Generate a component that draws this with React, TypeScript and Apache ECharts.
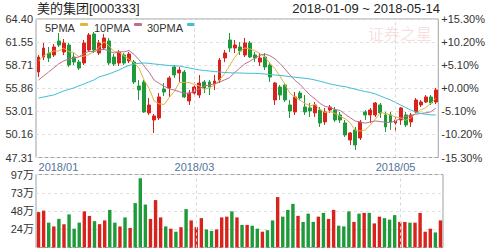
import { useEffect, useRef } from 'react';
import * as echarts from 'echarts';

const dates = [
  '2018-01-10', '2018-01-11', '2018-01-12', '2018-01-15', '2018-01-16', '2018-01-17', '2018-01-18', '2018-01-19',
  '2018-01-22', '2018-01-23', '2018-01-24', '2018-01-25', '2018-01-26', '2018-01-29', '2018-01-30', '2018-01-31',
  '2018-02-01', '2018-02-02', '2018-02-05', '2018-02-06', '2018-02-07', '2018-02-08', '2018-02-09', '2018-02-12',
  '2018-02-13', '2018-02-14', '2018-02-22', '2018-02-23', '2018-02-26', '2018-02-27', '2018-02-28',
  '2018-03-01', '2018-03-02', '2018-03-05', '2018-03-06', '2018-03-07', '2018-03-08', '2018-03-09', '2018-03-12',
  '2018-03-13', '2018-03-14', '2018-03-15', '2018-03-16', '2018-03-19', '2018-03-20', '2018-03-21', '2018-03-22',
  '2018-03-23', '2018-03-26', '2018-03-27', '2018-03-28', '2018-03-29', '2018-03-30',
  '2018-04-02', '2018-04-03', '2018-04-04', '2018-04-09', '2018-04-10', '2018-04-11', '2018-04-12', '2018-04-13',
  '2018-04-16', '2018-04-17', '2018-04-18', '2018-04-19', '2018-04-20', '2018-04-23', '2018-04-24', '2018-04-25',
  '2018-04-26', '2018-04-27',
  '2018-05-02', '2018-05-03', '2018-05-04', '2018-05-07', '2018-05-08', '2018-05-09', '2018-05-10', '2018-05-11',
  '2018-05-14',
];

const opens = [
  57.86, 59.71, 60.2, 59.96, 61.69, 60.33, 61.19, 59.71, 59.09, 58.97,
  60.57, 62.55, 60.2, 60.82, 61.69, 59.71, 58.97, 59.96, 59.22, 59.09,
  56.13, 56.63, 52.81, 51.94, 52.19, 55.76, 55.89, 58.48, 57.74, 57.86,
  54.28, 55.27, 55.02, 56.63, 56.63, 56.38, 56.87, 59.59, 61.81, 60.82,
  60.95, 59.96, 61.44, 59.96, 59.09, 59.71, 58.72, 54.41, 56.01, 56.26,
  53.79, 52.93, 55.27, 53.54, 53.42, 52.81, 53.17, 51.7, 53.17, 53.17,
  52.56, 51.57, 49.47, 50.71, 49.72, 52.93, 52.56, 52.56, 53.79, 52.56,
  52.56, 51.57, 51.94, 52.56, 51.7, 52.93, 53.79, 54.16, 54.78, 54.16,
];
const closes = [
  59.71, 60.82, 59.59, 60.95, 61.19, 61.44, 58.72, 59.09, 58.35, 61.44,
  62.43, 60.57, 61.44, 62.06, 58.97, 58.85, 60.33, 58.97, 60.08, 56.63,
  55.64, 52.93, 53.79, 52.44, 54.78, 55.39, 57.12, 57.49, 58.11, 54.78,
  55.27, 56.01, 56.5, 55.89, 56.01, 56.75, 59.34, 60.2, 60.82, 61.19,
  60.45, 61.44, 59.71, 59.59, 59.59, 58.48, 57.24, 56.5, 55.02, 54.41,
  53.05, 54.78, 54.65, 52.93, 53.05, 53.79, 51.57, 52.93, 53.54, 51.94,
  51.94, 50.09, 50.34, 48.85, 51.7, 52.56, 53.17, 54.04, 52.81, 51.08,
  51.7, 51.94, 53.42, 51.33, 52.56, 54.41, 54.16, 54.78, 54.04, 55.64,
];
const lows = [
  57.24, 59.34, 59.09, 59.71, 60.95, 59.96, 58.48, 58.72, 58.11, 58.72,
  60.33, 60.2, 59.96, 60.57, 58.72, 58.6, 58.6, 58.72, 58.97, 56.38,
  54.41, 52.81, 52.56, 50.34, 51.94, 54.9, 54.78, 57.12, 56.63, 54.65,
  53.79, 54.78, 54.65, 55.27, 55.02, 55.64, 56.5, 59.09, 60.33, 60.2,
  59.96, 59.71, 59.59, 59.09, 58.6, 58.11, 56.63, 53.79, 54.41, 54.16,
  52.19, 52.56, 54.41, 52.56, 52.31, 52.31, 51.08, 51.33, 52.81, 51.7,
  51.57, 49.85, 48.85, 48.24, 49.47, 51.94, 51.57, 52.31, 52.19, 50.46,
  50.71, 50.46, 51.33, 51.08, 51.08, 52.81, 53.54, 54.04, 53.79, 53.91,
];
const highs = [
  59.96, 61.44, 60.95, 61.31, 62.67, 61.93, 61.44, 60.2, 59.34, 61.81,
  62.67, 62.8, 61.81, 62.55, 62.06, 60.08, 60.57, 60.2, 60.33, 59.34,
  56.87, 56.87, 54.65, 52.68, 55.27, 56.5, 57.37, 58.72, 58.48, 58.11,
  55.64, 56.63, 57.49, 56.87, 56.87, 57.49, 59.59, 60.57, 62.67, 61.81,
  61.56, 62.06, 61.69, 60.33, 60.2, 60.2, 59.09, 56.63, 56.26, 56.5,
  54.41, 55.39, 55.52, 55.02, 54.04, 54.16, 53.54, 53.42, 53.79, 53.54,
  52.93, 51.94, 50.46, 51.08, 51.94, 53.17, 53.42, 54.16, 54.04, 52.93,
  52.93, 52.31, 53.54, 52.93, 52.81, 54.65, 54.41, 55.02, 55.02, 55.89,
];
// volume in 万
const volumes = [
  47, 49, 33, 28, 38, 31, 44, 25, 33, 48,
  42, 35, 31, 36, 50, 33, 28, 40, 26, 59,
  92, 57, 38, 63, 40, 28, 25, 21, 27, 51,
  36, 27, 39, 24, 22, 24, 40, 41, 48, 40,
  30, 30, 29, 25, 21, 23, 36, 67, 41, 50,
  58, 42, 34, 45, 34, 41, 46, 38, 50, 29,
  28, 48, 34, 45, 46, 46, 32, 41, 39, 37,
  43, 34, 34, 33, 33, 46, 21, 25, 20, 36,
];
// MA values for the first days (need closes before the window)
const ma5Head = [59.22, 59.83, 60.2, 60.45];
const ma10Head = [56.87, 57.37, 57.86, 58.35, 58.85, 59.22, 59.46, 59.59, 59.71];
const ma30 = [
  54.65, 54.77, 54.9, 55.02, 55.27, 55.52, 55.7, 55.89, 56.13, 56.38,
  56.63, 56.87, 57.24, 57.43, 57.61, 57.86, 58.11, 58.42, 58.66, 58.85,
  58.93, 58.97, 58.93, 58.85, 58.79, 58.72, 58.66, 58.62, 58.6, 58.48,
  58.35, 58.23, 58.11, 58.05, 57.98, 57.92, 57.86, 57.8, 57.77, 57.74,
  57.74, 57.71, 57.7, 57.7, 57.67, 57.61, 57.55, 57.49, 57.43, 57.37,
  57.28, 57.22, 57.14, 57.08, 57.0, 56.87, 56.72, 56.55, 56.38, 56.26,
  56.13, 56.05, 55.89, 55.74, 55.58, 55.45, 55.33, 55.15, 54.9, 54.65,
  54.41, 54.1, 53.79, 53.48, 53.17, 52.93, 52.74, 52.64, 52.58, 52.55,
];

const basePrice = 55.855;
const priceLabels = ['47.31', '50.16', '53.01', '55.86', '58.71', '61.55', '64.40'];
const pctLabels = ['-15.30%', '-10.20%', '-5.10%', '+0.00%', '+5.10%', '+10.20%', '+15.30%'];
const volLabels = ['', '24万', '48万', '73万', '97万'];
const xLabelDates = ['2018-01-10', '2018-03-01', '2018-05-02'];
const monthLineDates = ['2018-03-01', '2018-05-02'];

const titleText = '美的集团[000333]';
const rangeText = '2018-01-09 ~ 2018-05-14';
const watermarkText = '证券之星';

const RED = '#d8231d';
const GREEN = '#1e9a3a';
const MA5C = '#e2b43a';
const MA10C = '#bc6f93';
const MA30C = '#3dbfd6';
const FONT = '"Liberation Sans", Arial, "Noto Sans CJK SC", sans-serif';

const toPct = (p: number) => (p / basePrice - 1) * 100;

function movingAvg(n: number, head: number[]) {
  return closes.map((_, i) => {
    if (i < n - 1) return head[i];
    let s = 0;
    for (let k = i - n + 1; k <= i; k++) s += closes[k];
    return s / n;
  });
}

export default function App() {
  const ref = useRef<HTMLDivElement>(null);
  useEffect(() => {
    document.body.style.margin = '0';
    const chart = echarts.init(ref.current!, undefined, { renderer: 'svg' });
    const ma5 = movingAvg(5, ma5Head);
    const ma10 = movingAvg(10, ma10Head);
    const candles = dates.map((_, i) => [toPct(opens[i]), toPct(closes[i]), toPct(lows[i]), toPct(highs[i])]);
    const vol = volumes.map((v, i) => ({ value: v, itemStyle: { color: closes[i] >= opens[i] ? RED : GREEN } }));
    const markLine = {
      silent: true,
      symbol: ['none', 'none'],
      label: { show: false },
      lineStyle: { color: '#d8d8d8', type: [3, 3], width: 1 },
      data: monthLineDates.map((d) => ({ xAxis: d })),
    };
    const splitLine = { show: true, lineStyle: { color: '#e0e0e0', type: [3, 3], width: 1 } };
    const option: any = {
      animation: false,
      backgroundColor: '#ffffff',
      textStyle: { fontFamily: FONT },
      grid: [
        { left: 36, right: 45, top: 19, height: 138.5, show: true, borderColor: '#a0a0a0', borderWidth: 1 },
        { left: 36, right: 45, top: 174.5, height: 73, show: true, borderColor: '#a0a0a0', borderWidth: 1 },
      ],
      xAxis: [
        {
          type: 'category', gridIndex: 0, data: dates,
          axisLine: { show: false }, axisTick: { show: false }, splitLine: { show: false },
          axisLabel: {
            interval: (_i: number, v: string) => xLabelDates.includes(v),
            formatter: (v: string) => v.slice(0, 7).replace('-', '/'),
            color: '#52739a', fontSize: 11, margin: 4, fontFamily: FONT,
            alignMinLabel: 'left',
          },
        },
        {
          type: 'category', gridIndex: 1, data: dates,
          axisLine: { show: false }, axisTick: { show: false }, splitLine: { show: false },
          axisLabel: { show: false },
        },
      ],
      yAxis: [
        {
          type: 'value', gridIndex: 0, min: -15.3, max: 15.3, interval: 5.1, position: 'left',
          axisLine: { show: false }, axisTick: { show: false }, splitLine,
          axisLabel: {
            formatter: (v: number) => priceLabels[Math.round((v + 15.3) / 5.1)] ?? '',
            color: '#333', fontSize: 11, margin: 3, fontFamily: FONT,
          },
        },
        {
          type: 'value', gridIndex: 0, min: -15.3, max: 15.3, interval: 5.1, position: 'right',
          axisLine: { show: false }, axisTick: { show: false }, splitLine: { show: false },
          axisLabel: {
            formatter: (v: number) => pctLabels[Math.round((v + 15.3) / 5.1)] ?? '',
            color: '#333', fontSize: 11, margin: 3, fontFamily: FONT,
          },
        },
        {
          type: 'value', gridIndex: 1, min: 0, max: 97, interval: 24.25, position: 'left',
          axisLine: { show: false }, axisTick: { show: false }, splitLine,
          axisLabel: {
            formatter: (v: number) => volLabels[Math.round(v / 24.25)] ?? '',
            color: '#333', fontSize: 11, margin: 2, fontFamily: FONT, padding: [5, 0, 0, 0],
          },
        },
      ],
      series: [
        {
          type: 'candlestick', name: 'K', xAxisIndex: 0, yAxisIndex: 0, data: candles, barWidth: 3.4,
          itemStyle: { color: RED, color0: GREEN, borderColor: RED, borderColor0: GREEN, borderWidth: 1 },
          markLine,
        },
        { type: 'line', name: '5PMA', xAxisIndex: 0, yAxisIndex: 0, data: ma5.map(toPct), symbol: 'none', lineStyle: { color: MA5C, width: 1 }, itemStyle: { color: MA5C } },
        { type: 'line', name: '10PMA', xAxisIndex: 0, yAxisIndex: 0, data: ma10.map(toPct), symbol: 'none', lineStyle: { color: MA10C, width: 1 }, itemStyle: { color: MA10C } },
        { type: 'line', name: '30PMA', xAxisIndex: 0, yAxisIndex: 0, data: ma30.map(toPct), symbol: 'none', lineStyle: { color: MA30C, width: 1 }, itemStyle: { color: MA30C } },
        { type: 'bar', name: 'VOL', xAxisIndex: 1, yAxisIndex: 2, data: vol, barWidth: 3.4, markLine },
      ],
      graphic: [
        { type: 'text', left: 37, top: 2, style: { text: titleText, fontSize: 13, fill: '#222', fontFamily: FONT } },
        { type: 'text', right: 48, top: 2, style: { text: rangeText, fontSize: 13, fill: '#222', fontFamily: FONT } },
        { type: 'text', x: 400, y: 33, style: { text: watermarkText, fontSize: 16, fill: 'rgba(225,110,110,0.22)', fontFamily: '"Noto Sans CJK SC", sans-serif', align: 'center', verticalAlign: 'middle' } },
        { type: 'text', x: 45, y: 28, style: { text: '5PMA', fontSize: 11, fill: '#333', fontFamily: FONT, verticalAlign: 'middle' } },
        { type: 'rect', x: 80, y: 23, shape: { width: 8, height: 3, r: 1 }, style: { fill: MA5C } },
        { type: 'text', x: 94, y: 28, style: { text: '10PMA', fontSize: 11, fill: '#333', fontFamily: FONT, verticalAlign: 'middle' } },
        { type: 'rect', x: 134, y: 23, shape: { width: 8, height: 3, r: 1 }, style: { fill: MA10C } },
        { type: 'text', x: 147, y: 28, style: { text: '30PMA', fontSize: 11, fill: '#333', fontFamily: FONT, verticalAlign: 'middle' } },
        { type: 'rect', x: 187, y: 23, shape: { width: 8, height: 3, r: 1 }, style: { fill: MA30C } },
      ],
    };
    chart.setOption(option);
    return () => chart.dispose();
  }, []);
  return <div ref={ref} style={{ width: 488, height: 250 }} />;
}
